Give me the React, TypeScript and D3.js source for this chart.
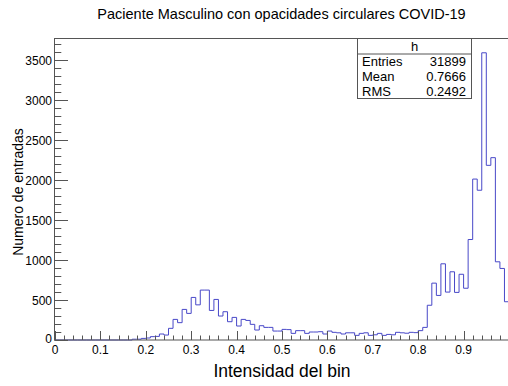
import React from "react";
import * as d3 from "d3";

const title = "Paciente Masculino con opacidades circulares COVID-19";
const xTitle = "Intensidad del bin";
const yTitle = "Numero de entradas";

const binLow = 0;
const binHigh = 1;
const counts: number[] = [
  0, 0, 0, 0, 0, 0, 0, 0, 0, 0,
  0, 0, 0, 0, 0, 0, 0, 10, 10, 20,
  25, 42, 45, 75, 62, 146, 258, 217, 383, 333,
  533, 440, 625, 625, 370, 508, 300, 354, 229, 283,
  175, 258, 245, 196, 125, 179, 158, 158, 112, 112,
  133, 130, 83, 117, 117, 83, 100, 100, 104, 75,
  112, 96, 90, 75, 90, 90, 58, 83, 90, 58,
  65, 83, 58, 70, 65, 96, 90, 85, 96, 92,
  117, 158, 435, 712, 558, 954, 600, 854, 596, 823,
  648, 1258, 2015, 1875, 3596, 2187, 2283, 979, 896, 479,
];
const xTicks = [0, 0.1, 0.2, 0.3, 0.4, 0.5, 0.6, 0.7, 0.8, 0.9];
const yTicks = [0, 500, 1000, 1500, 2000, 2500, 3000, 3500];
const statsName = "h";
const statsLabels = ["Entries", "Mean", "RMS"];
const statsValues = ["31899", "0.7666", "0.2492"];

const W = 508;
const H = 386;
const L = 54.5;
const R = 509;
const T = 38.5;
const B = 340;
const yMax = 3775;
const font = "'Liberation Sans', Arial, Helvetica, sans-serif";
const axisColor = "#555";
const histColor = "#4848c8";

export default function App() {
  const x = d3.scaleLinear().domain([binLow, binHigh]).range([L + 0.5, R]);
  const y = d3.scaleLinear().domain([0, yMax]).range([B, T]);
  const nb = counts.length;
  const bw = (binHigh - binLow) / nb;

  let d = `M${x(binLow)},${y(0)}`;
  counts.forEach((c, i) => {
    const x0 = x(binLow + i * bw);
    const x1 = x(binLow + (i + 1) * bw);
    d += `L${x0},${y(c)}L${x1},${y(c)}`;
  });
  d += `L${x(binHigh)},${y(0)}`;

  const xMinor = d3.range(0, 51).map((i) => i * 0.02);
  const yMinor = d3.range(0, 38).map((i) => i * 100).filter((v) => v <= yMax);
  const xMajLen = 9;
  const xMinLen = 4.5;
  const yMajLen = 13.5;
  const yMinLen = 6.8;

  const sbL = 357.5, sbR = 471.5, sbT = 38.5, sbHead = 54, sbB = 98.5;

  return (
    <svg
      width={W}
      height={H}
      style={{ position: "absolute", left: 0, top: 0, background: "#fff" }}
      fontFamily={font}
    >
      <rect x={0} y={0} width={W} height={H} fill="#fff" />
      <text x={281.5} y={18.5} fontSize={14.5} textAnchor="middle" fill="#000">
        {title}
      </text>
      <path d={d} fill="none" stroke={histColor} strokeWidth={1} />
      <rect x={L} y={T} width={R - L} height={B - T} fill="none" stroke={axisColor} strokeWidth={1} />
      {xMinor.map((v, i) => {
        const major = i % 5 === 0;
        const px = Math.round(x(v)) + 0.5;
        return (
          <line key={"xt" + i} x1={px} x2={px} y1={B} y2={B - (major ? xMajLen : xMinLen)} stroke={axisColor} />
        );
      })}
      {yMinor.map((v, i) => {
        const major = v % 500 === 0;
        const py = Math.round(y(v)) + 0.5;
        return (
          <line key={"yt" + i} x1={L} x2={L + (major ? yMajLen : yMinLen)} y1={py} y2={py} stroke={axisColor} />
        );
      })}
      {xTicks.map((v, i) => (
        <text key={"xl" + i} x={x(v)} y={354} fontSize={12} textAnchor="middle" fill="#000">
          {String(v)}
        </text>
      ))}
      {yTicks.map((v, i) => (
        <text key={"yl" + i} x={52} y={y(v) + (v === 0 ? 3 : 4.5)} fontSize={12} textAnchor="end" fill="#000">
          {String(v)}
        </text>
      ))}
      <text x={282} y={377} fontSize={17.5} textAnchor="middle" fill="#000">
        {xTitle}
      </text>
      <text transform={`translate(23,192) rotate(-90)`} fontSize={14} textAnchor="middle" fill="#000">
        {yTitle}
      </text>
      <rect x={sbL} y={sbT} width={sbR - sbL} height={sbB - sbT} fill="#fff" stroke={axisColor} />
      <line x1={sbL} x2={sbR} y1={sbHead} y2={sbHead} stroke={axisColor} />
      <text x={(sbL + sbR) / 2} y={51} fontSize={13} textAnchor="middle" fill="#000">
        {statsName}
      </text>
      {statsLabels.map((lab, i) => (
        <g key={"st" + i}>
          <text x={362} y={66 + i * 15} fontSize={13} fill="#000">
            {lab}
          </text>
          <text x={466} y={66 + i * 15} fontSize={13} textAnchor="end" fill="#000">
            {statsValues[i]}
          </text>
        </g>
      ))}
    </svg>
  );
}
